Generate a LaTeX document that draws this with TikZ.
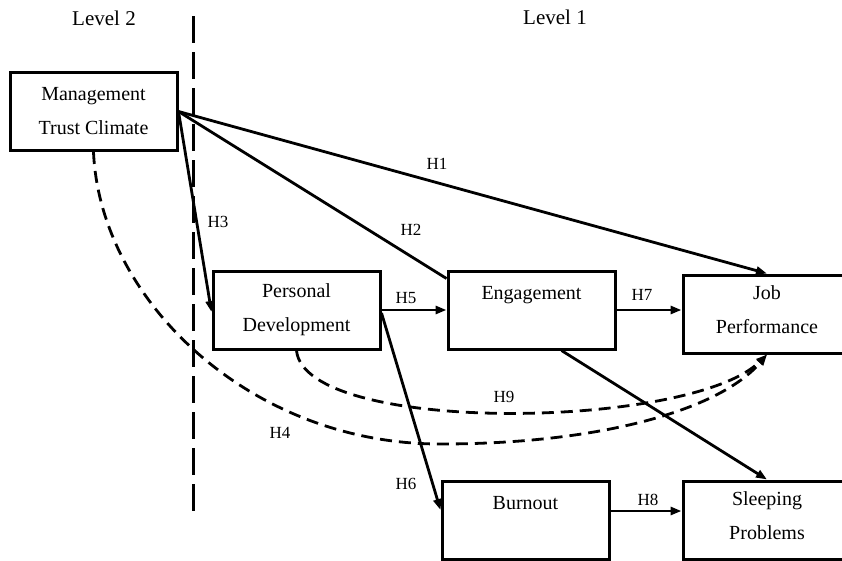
\documentclass[tikz,border=0pt]{standalone}
\usepackage{fontspec}
\setmainfont{Liberation Serif}
\usetikzlibrary{arrows.meta,calc}
\begin{document}
\begin{tikzpicture}[x=1pt,y=-1pt,
  boxnode/.style={draw,line width=3pt,minimum width=167pt,minimum height=78pt,
    align=center,inner sep=0pt,font=\fontsize{20}{34}\selectfont},
  widebox/.style={boxnode,minimum width=200pt},
  boxtext/.style={align=center,inner sep=0pt,font=\fontsize{20}{34}\selectfont},
  conn/.style={line width=2.8pt,-{Triangle[length=11pt,width=8pt]}},
  plainconn/.style={line width=2.8pt},
  dashconn/.style={line width=2.8pt,dash pattern=on 12pt off 7pt,-{Triangle[length=11pt,width=8pt]}},
  hlab/.style={font=\fontsize{17}{20}\selectfont,inner sep=0pt},
  levlab/.style={font=\fontsize{21}{24}\selectfont,inner sep=0pt}]
\useasboundingbox (0,0) rectangle (842,560);
\clip (0,0) rectangle (842,560);
\node[boxnode] (mtc) at (93.5,111.5) {Management\\Trust Climate};
\node[boxnode] (pd) at (296.5,310) {Personal\\Development};
\node[boxnode] (eng) at (531.5,310) {Engagement\\\mbox{}};
\node[widebox] (jp) at (783,314) {};
\node[boxtext] (jptext) at (767,310) {Job\\Performance};
\node[boxnode] (bo) at (525.5,520) {Burnout\\\mbox{}};
\node[widebox] (sp) at (783,520) {};
\node[boxtext] (sptext) at (767,516) {Sleeping\\Problems};
\node[levlab] (l2) at (104,18) {Level 2};
\node[levlab] (l1) at (555,17) {Level 1};
\coordinate (vtop) at (193,16);
\coordinate (vbot) at (193,515);
\draw[line width=3pt,dash pattern=on 27pt off 9pt] (vtop) -- (vbot);
% solid connectors
\draw[conn] (mtc.east) -- (jptext.north |- jp.north);
\draw[plainconn] (mtc.east) -- ([yshift=-9pt]eng.north west);
\draw[conn] (mtc.east) -- ([yshift=-2pt]pd.west);
\draw[conn] (pd.east) -- (pd.east -| eng.west);
\draw[conn] ([yshift=-3pt]pd.east) -- ([yshift=10pt]bo.west);
\draw[conn] (eng.east) -- (eng.east -| jp.west);
\draw[conn] ([yshift=9pt]bo.east) -- ([yshift=9pt]bo.east -| sp.west);
\draw[conn] ([xshift=30pt]eng.south) -- (sptext.north |- sp.north);
% dashed connectors
\coordinate (jpbot) at (jptext.south |- jp.south);
\draw[dashconn] (pd.south) .. controls (305,435) and (690,430) .. (jpbot);
\coordinate (h4mid) at (440,444);
\draw[dashconn] (mtc.south) .. controls (100,300) and (250,444) .. (h4mid)
  .. controls (600,444) and (720,410) .. (jpbot);
% labels
\node[hlab] (h1) at (437,164) {H1};
\node[hlab] (h2) at (411,230) {H2};
\node[hlab] (h3) at (218,222) {H3};
\node[hlab] (h5) at (406,298) {H5};
\node[hlab] (h6) at (406,484) {H6};
\node[hlab] (h7) at (642,295) {H7};
\node[hlab] (h8) at (648,500) {H8};
\node[hlab] (h9) at (504,397) {H9};
\node[hlab] (h4) at (280,433) {H4};
\end{tikzpicture}
\end{document}
